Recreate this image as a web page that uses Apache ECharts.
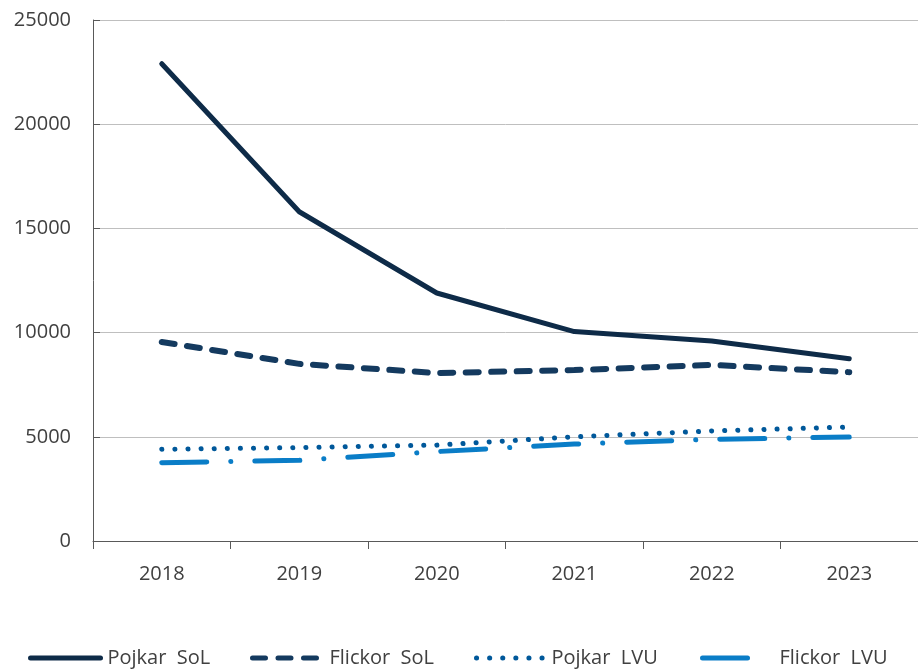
<!DOCTYPE html>
<html>
<head>
<meta charset="utf-8">
<script src="https://cdn.jsdelivr.net/npm/echarts@6/dist/echarts.min.js"></script>
<style>
  html, body { margin: 0; padding: 0; background: #fff; }
  #main { width: 918px; height: 671px; }
</style>
</head>
<body>
<div id="main"></div>
<script>
const years = ["2018", "2019", "2020", "2021", "2022", "2023"];
const pojkarSol = [22900, 15800, 11900, 10050, 9600, 8750];
const flickorSol = [9550, 8500, 8060, 8200, 8450, 8100];
const pojkarLvu = [4400, 4480, 4600, 5000, 5280, 5470];
const flickorLvu = [3760, 3870, 4290, 4650, 4880, 4990];
const seriesNames = ["Pojkar  SoL", "Flickor  SoL", "Pojkar  LVU", "Flickor  LVU"];

const myChart = echarts.init(document.getElementById("main"));

const font = "'Open Sans', 'Noto Sans', sans-serif";

// one legend per item so each can sit where the reference puts it
const legendLeft = [23, 245, 469, 695];
const legendWidth = [70, 70, 68, 52];
const legendPad = [2, 2, 2, 20];
const legends = seriesNames.map((name, i) => ({
  bottom: -2,
  left: legendLeft[i],
  itemWidth: legendWidth[i],
  itemHeight: 14,
  itemGap: 0,
  itemStyle: { opacity: 0 },
  lineStyle: { width: 5 },
  textStyle: { fontFamily: font, fontSize: 20, color: "#404040", padding: [0, 0, 0, legendPad[i]] },
  data: [name],
}));

const options = {
  animation: false,
  grid: {
    left: 93,
    right: -9,
    top: 20,
    bottom: 130,
  },
  legend: legends,
  xAxis: {
    type: "category",
    data: years,
    boundaryGap: true,
    axisLine: { lineStyle: { color: "#595959", width: 1 } },
    axisTick: { show: true, length: 8, lineStyle: { color: "#595959" } },
    axisLabel: { fontFamily: font, fontSize: 20, color: "#404040", margin: 23 },
  },
  yAxis: {
    type: "value",
    min: 0,
    max: 25000,
    interval: 5000,
    axisLine: { show: true, lineStyle: { color: "#595959", width: 1 } },
    axisTick: { show: true, inside: true, length: 7, lineStyle: { color: "#595959" } },
    splitLine: { lineStyle: { color: "#bfbfbf", width: 1 } },
    axisLabel: {
      fontFamily: font,
      fontSize: 20,
      color: "#404040",
      margin: 22,
      formatter: (v) => String(v),
    },
  },
  series: [
    {
      name: seriesNames[0],
      type: "line",
      data: pojkarSol,
      symbol: "none",
      color: "#0e2b48",
      lineStyle: { width: 5, color: "#0e2b48", cap: "round" },
    },
    {
      name: seriesNames[1],
      type: "line",
      data: flickorSol,
      symbol: "none",
      color: "#143a5f",
      lineStyle: { width: 6, color: "#143a5f", type: [13, 12.5], cap: "round" },
    },
    {
      name: seriesNames[2],
      type: "line",
      data: pojkarLvu,
      symbol: "none",
      color: "#00589a",
      lineStyle: { width: 5, color: "#00589a", type: [0.1, 13], cap: "round" },
    },
    {
      name: seriesNames[3],
      type: "line",
      data: flickorLvu,
      symbol: "none",
      color: "#0a7dc7",
      lineStyle: { width: 5, color: "#0a7dc7", type: [45, 24, 0.1, 24], cap: "round" },
    },
  ],
};

myChart.setOption(options);
</script>
</body>
</html>
